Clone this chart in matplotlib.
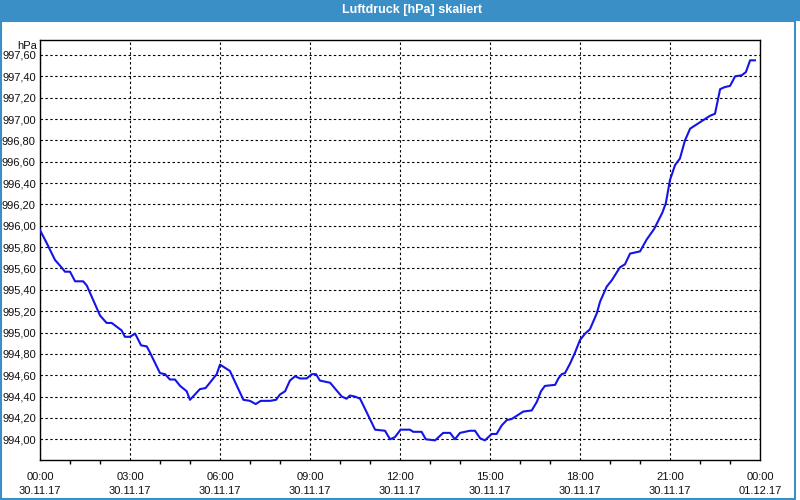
import matplotlib
matplotlib.use("Agg")
import matplotlib.pyplot as plt
from matplotlib.ticker import FuncFormatter, MultipleLocator, FixedLocator
from matplotlib.patches import Rectangle

# ---- data (hours since 30.11.17 00:00, pressure in hPa) ----
hours = [0.00, 0.22, 0.50, 0.78, 0.83, 1.00, 1.17, 1.44, 1.56, 2.00,
         2.22, 2.39, 2.72, 2.83, 3.00, 3.17, 3.37, 3.56, 3.67, 4.00,
         4.17, 4.33, 4.50, 4.67, 4.89, 5.00, 5.33, 5.52, 5.89, 6.00,
         6.33, 6.78, 7.00, 7.19, 7.36, 7.67, 7.87, 8.00, 8.17, 8.33,
         8.50, 8.67, 8.89, 9.06, 9.20, 9.33, 9.67, 10.06, 10.22, 10.33,
         10.50, 10.67, 11.17, 11.50, 11.67, 11.83, 12.02, 12.33, 12.44, 12.72,
         12.86, 13.17, 13.44, 13.67, 13.83, 14.00, 14.33, 14.50, 14.67, 14.83,
         15.06, 15.22, 15.39, 15.56, 15.72, 15.89, 16.11, 16.39, 16.56, 16.70,
         16.83, 17.17, 17.28, 17.39, 17.50, 17.67, 17.83, 18.00, 18.17, 18.33,
         18.56, 18.67, 18.89, 19.06, 19.33, 19.50, 19.67, 20.00, 20.22, 20.47,
         20.74, 20.86, 21.00, 21.17, 21.33, 21.50, 21.67, 22.00, 22.33, 22.50,
         22.67, 22.83, 23.00, 23.17, 23.39, 23.53, 23.67, 23.83]
pressure = [995.96, 995.84, 995.68, 995.59, 995.57, 995.57, 995.48, 995.48, 995.44, 995.16,
            995.09, 995.09, 995.02, 994.96, 994.96, 994.99, 994.88, 994.87, 994.81, 994.62,
            994.61, 994.56, 994.56, 994.50, 994.45, 994.37, 994.47, 994.48, 994.61, 994.70,
            994.64, 994.37, 994.36, 994.33, 994.36, 994.36, 994.37, 994.42, 994.45, 994.55,
            994.59, 994.57, 994.57, 994.61, 994.61, 994.55, 994.53, 994.40, 994.38, 994.41,
            994.40, 994.38, 994.09, 994.08, 994.00, 994.02, 994.09, 994.09, 994.07, 994.07,
            994.00, 993.99, 994.06, 994.06, 994.00, 994.06, 994.08, 994.08, 994.01, 993.99,
            994.05, 994.05, 994.13, 994.18, 994.19, 994.22, 994.26, 994.27, 994.35, 994.45,
            994.50, 994.51, 994.57, 994.61, 994.62, 994.71, 994.81, 994.93, 994.99, 995.03,
            995.18, 995.29, 995.43, 995.49, 995.61, 995.64, 995.74, 995.76, 995.87, 995.97,
            996.12, 996.21, 996.43, 996.57, 996.63, 996.80, 996.91, 996.97, 997.03, 997.05,
            997.28, 997.30, 997.31, 997.40, 997.41, 997.44, 997.55, 997.55]

tick_hours = [0, 3, 6, 9, 12, 15, 18, 21, 24]
time_labels = ["00:00", "03:00", "06:00", "09:00", "12:00", "15:00", "18:00", "21:00", "00:00"]
date_labels = ["30.11.17"] * 8 + ["01.12.17"]

title = "Luftdruck [hPa] skaliert"
unit = "hPa"

# ---- figure ----
plt.rcParams['font.family'] = ['Liberation Sans', 'DejaVu Sans']
fig = plt.figure(figsize=(8, 5), dpi=100)
fig.patch.set_facecolor("white")

W, H = 800.0, 500.0
# title bar
fig.patches.append(Rectangle((0, 1 - 21 / H), 1, 21 / H, transform=fig.transFigure,
                             facecolor="#3b8fc7", edgecolor="none", zorder=0))
# outer border
fig.patches.append(Rectangle((0.6 / W, 1.5 / H), 794.6 / W, (498.5 - 21) / H,
                             transform=fig.transFigure, facecolor="none",
                             edgecolor="#3b8fc7", linewidth=1.5, zorder=1))
fig.text(412 / W, 1 - 10.5 / H, title, color="white", fontsize=9, fontweight="bold",
         ha="center", va="center")

ax = fig.add_axes([40 / W, 40 / H, 720 / W, 420 / H])
ax.plot(hours, pressure, color="#1414e8", linewidth=1.5, zorder=3)

ax.set_xlim(0, 24)
ax.set_ylim(993.806, 997.7405)

ax.yaxis.set_major_locator(MultipleLocator(0.2))
ax.yaxis.set_major_formatter(FuncFormatter(lambda v, p: f"{v:.2f}".replace(".", ",")))
ax.set_ylim(993.806, 997.7405)

ax.xaxis.set_major_locator(FixedLocator(tick_hours))
ax.set_xticklabels([f"{t}\n{d}" for t, d in zip(time_labels, date_labels)])
ax.xaxis.set_minor_locator(MultipleLocator(1))

ax.tick_params(axis="y", length=0, pad=3, labelsize=8, labelcolor="#101010")
ax.tick_params(axis="x", which="major", length=0, pad=9, labelsize=8, labelcolor="#101010")
ax.tick_params(axis="x", which="minor", length=3, width=1, direction="out", color="black")
for lab in ax.get_xticklabels():
    lab.set_linespacing(1.45)

ax.grid(True, which="major", color="black", linestyle=(0, (2.2, 2.2)), linewidth=0.8)
ax.set_axisbelow(True)
for s in ax.spines.values():
    s.set_color("black")
    s.set_linewidth(1.0)

fig.text(37 / W, 1 - 46 / H, unit, fontsize=8, color="#101010", ha="right", va="center")

fig.savefig("out.png", dpi=100)
